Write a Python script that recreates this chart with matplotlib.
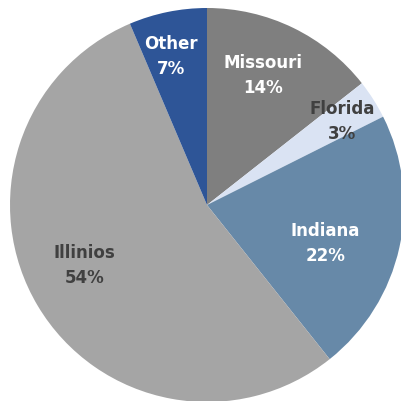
import numpy as np
import matplotlib.pyplot as plt

states = ["Missouri", "Florida", "Indiana", "Illinios", "Other"]
shares = [14.4, 3.2, 21.7, 54.3, 6.4]
pct_labels = ["14%", "3%", "22%", "54%", "7%"]
colors = ["#7f7f7f", "#dae3f3", "#6789a8", "#a5a5a5", "#2e5597"]
text_colors = ["white", "#404040", "white", "#404040", "white"]
label_radius = [0.72, 0.81, 0.63, 0.69, 0.78]
label_shift = [2.8, -0.5, -5.4, -5.0, 2.0]  # degrees

fig = plt.figure(figsize=(4.02, 4.02), dpi=100)
ax = fig.add_axes([0, 0, 1, 1])

wedges, _ = ax.pie(shares, colors=colors, startangle=90, counterclock=False,
                   radius=1, wedgeprops=dict(linewidth=0))

for i, w in enumerate(wedges):
    mid = np.deg2rad((w.theta1 + w.theta2) / 2 + label_shift[i])
    r = label_radius[i]
    ax.text(r * np.cos(mid), r * np.sin(mid),
            states[i] + "\n" + pct_labels[i],
            ha="center", va="center", color=text_colors[i],
            fontsize=12, fontweight="bold", linespacing=1.5,
            family="DejaVu Sans")

# pie center sits at (207, 206) px, radius ~197 px
s = 197.0
ax.set_xlim(-207 / s, (402 - 207) / s)
ax.set_ylim(-(402 - 206) / s, 206 / s)
ax.set_aspect("auto")
ax.axis("off")

fig.savefig("out.png", dpi=100)
